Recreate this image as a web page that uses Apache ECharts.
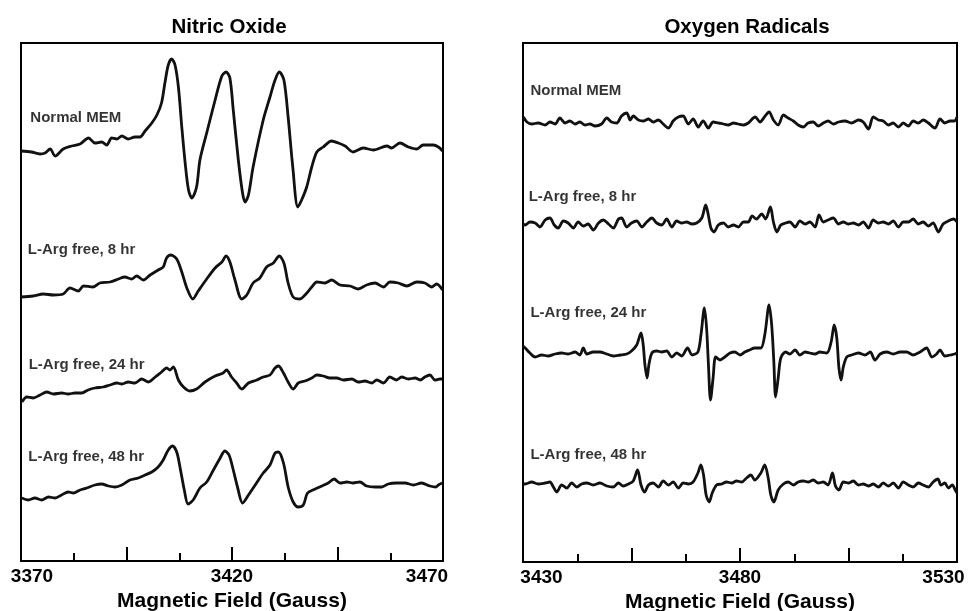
<!DOCTYPE html>
<html>
<head>
<meta charset="utf-8">
<script src="https://cdn.jsdelivr.net/npm/echarts@6/dist/echarts.min.js"></script>
<style>
  html, body { margin: 0; padding: 0; background: #fff; }
  #chart { width: 971px; height: 611px; }
</style>
</head>
<body>
<div id="chart"></div>
<script>
// EPR spectra, [field (G), signal (arb.)], signal read relative to each trace's baseline
const noNormal = [[3370,-1],[3372.5,-2],[3374.5,-4],[3375.7,-3],[3376.9,1],[3378.1,-6],[3380,1],[3382,4],[3384,6],[3386,12],[3387.5,7],[3389.1,8],[3390.3,5],[3391.5,12],[3392.7,11],[3393.9,14],[3395.4,11],[3397,13],[3398.2,13],[3399.4,19],[3401,27],[3402.2,35],[3403.3,47],[3404.1,67],[3404.9,85],[3405.7,91],[3406.5,85],[3407.3,63],[3408.1,23],[3408.9,-13],[3409.7,-40],[3410.5,-48],[3411.6,-37],[3412.4,-10],[3414,17],[3416,50],[3417.6,74],[3418.6,78],[3419.5,72],[3420.3,40],[3421.5,-10],[3422.5,-43],[3423.1,-52],[3423.9,-45],[3425,-17],[3427.4,30],[3429,53],[3430.2,70],[3431.2,78],[3432.3,70],[3433.3,33],[3434.4,-17],[3435.6,-57],[3436.5,-50],[3437.7,-37],[3438.9,-17],[3440.1,-2],[3441.6,3],[3443.6,9],[3445.2,7],[3446.8,4],[3448.7,-2],[3451.1,2],[3453.5,0],[3456.7,4],[3457.8,2],[3459.8,7],[3461.8,3],[3463.8,1],[3465.3,5],[3467.7,5],[3468.9,3],[3469.9,-1]];
const no8hr = [[3370,0],[3372.9,1],[3375.3,3],[3377.7,2],[3380,3],[3381.6,9],[3383.6,6],[3384.8,11],[3387.1,10],[3388.7,14],[3391.1,15],[3393.1,18],[3394.6,20],[3396.2,18],[3397.4,21],[3399,17],[3400.6,22],[3402.5,27],[3403.7,30],[3404.5,39],[3405.5,42],[3406.9,38],[3408.1,25],[3409.3,9],[3410.7,-2],[3412,6],[3414,18],[3416,29],[3417.6,35],[3418.6,41],[3419.5,35],[3420.7,17],[3422.3,-2],[3423.5,2],[3425,14],[3426.6,19],[3428.2,30],[3429.8,34],[3431.2,41],[3432.3,34],[3433.3,14],[3434.5,0],[3436.1,-2],[3437.3,2],[3438.9,10],[3440.1,15],[3442,14],[3443.6,17],[3445.6,12],[3448,11],[3449.9,8],[3451.9,12],[3453.9,14],[3455.9,10],[3457.4,15],[3459.4,14],[3461.4,11],[3463.8,15],[3465.7,14],[3467.3,10],[3468.5,13],[3469.9,7]];
const no24hr = [[3370.2,-7],[3371.4,-2],[3372.9,-3],[3374.5,0],[3376.1,3],[3377.7,1],[3379.6,2],[3381.2,1],[3382.8,2],[3384.4,2],[3385.9,5],[3387.5,7],[3389.5,8],[3391.1,10],[3392.7,12],[3393.9,11],[3395.4,13],[3397,12],[3398.6,16],[3400.2,13],[3401.8,18],[3403.3,23],[3404.5,27],[3405.3,25],[3406.1,28],[3407.3,15],[3408.5,8],[3410,4],[3411.6,6],[3413.6,13],[3416,19],[3417.9,22],[3418.7,25],[3419.9,18],[3421.1,12],[3422.3,6],[3423.9,12],[3425.9,15],[3427.4,18],[3429,20],[3430.2,27],[3431,29],[3432.2,22],[3433.3,13],[3434.5,6],[3435.7,12],[3437.3,14],[3438.9,17],[3440.1,20],[3441.6,19],[3443.2,17],[3444.8,17],[3446.4,15],[3448.4,16],[3449.9,13],[3451.5,14],[3453.1,12],[3454.3,15],[3455.9,12],[3457.4,18],[3459,15],[3460.2,18],[3461.8,16],[3463.4,17],[3464.6,15],[3465.7,18],[3466.9,20],[3468.1,15],[3469.3,16],[3469.9,16]];
const no48hr = [[3370.2,2],[3371.7,0],[3373.3,2],[3374.9,0],[3376.5,3],[3378.1,2],[3379.6,5],[3381.2,8],[3382.4,7],[3384,10],[3385.6,12],[3387.5,15],[3389.1,16],[3390.7,14],[3392.3,13],[3393.9,15],[3395.8,20],[3397.8,22],[3399.4,25],[3401,28],[3402.5,33],[3403.7,40],[3404.9,50],[3405.9,54],[3406.9,48],[3407.8,30],[3408.7,10],[3409.6,-4],[3410.8,0],[3412.4,12],[3414,18],[3415.6,30],[3417.2,42],[3418.3,49],[3419.3,45],[3420.3,30],[3421.3,13],[3422.5,-3],[3423.9,5],[3425.5,15],[3427.4,27],[3429,35],[3430.2,47],[3431,48],[3432.2,37],[3433.3,13],[3434.5,-2],[3435.7,-7],[3436.9,-5],[3437.9,7],[3439.7,11],[3441.3,14],[3442.8,17],[3444.2,21],[3445.6,17],[3447.2,18],[3448.7,17],[3450.3,18],[3451.9,14],[3453.9,13],[3455.5,13],[3457,16],[3459,17],[3461,17],[3463,15],[3464.9,17],[3466.9,14],[3468.3,13],[3468.9,15],[3469.8,17]];

const oxNormal = [[3430.1,6],[3430.9,1],[3432,-1],[3433.5,0],[3435.1,-2],[3436.2,1],[3437.4,-1],[3438.5,5],[3439.7,0],[3440.8,2],[3442,-1],[3443.1,1],[3444.3,-2],[3445.4,-1],[3446.6,-3],[3448.1,-1],[3449.3,5],[3450.4,1],[3451.6,0],[3452.7,7],[3453.9,10],[3454.7,3],[3455.4,7],[3456.6,3],[3457.7,2],[3458.9,4],[3460,1],[3461.2,3],[3462.3,-1],[3463.5,-5],[3464.6,2],[3465.8,6],[3466.9,7],[3468.1,-1],[3469.2,4],[3470.4,-4],[3471.5,2],[3472.7,-5],[3473.8,1],[3475,0],[3476.2,-1],[3477.3,-2],[3478.5,0],[3479.6,-1],[3480.8,-2],[3481.9,0],[3483.5,6],[3484.6,1],[3485.8,7],[3486.7,11],[3487.7,3],[3488.8,-2],[3490,8],[3491.1,5],[3492.3,2],[3493.4,-2],[3494.6,-4],[3495.7,0],[3496.9,1],[3498,-3],[3499.2,0],[3500.3,2],[3501.5,-1],[3502.7,1],[3504.2,2],[3505.7,0],[3507.3,3],[3508.4,1],[3509.6,-6],[3510.7,6],[3511.9,3],[3513,2],[3514.2,-2],[3515.3,0],[3516.5,-4],[3517.6,0],[3518.8,-3],[3519.9,2],[3521.1,0],[3522.2,3],[3523.4,0],[3524.9,-5],[3526.1,4],[3527.2,0],[3528.4,2],[3529.4,2],[3530,6]];
const ox8hr = [[3430,-1],[3430.5,-2],[3431.6,1],[3432.8,0],[3433.9,-4],[3435.1,3],[3436.2,5],[3437.2,-2],[3438.1,-5],[3439.3,2],[3440.4,0],[3441.6,-5],[3442.7,1],[3443.9,-3],[3445,-1],[3446.2,-7],[3447.4,0],[3448.5,3],[3449.7,-1],[3450.8,-5],[3452,4],[3452.7,5],[3453.9,-4],[3455,0],[3456.2,2],[3457.4,-4],[3458.5,1],[3459.7,5],[3460.8,0],[3462,-2],[3463.1,4],[3464.3,-4],[3465.4,2],[3466.6,0],[3467.7,1],[3468.9,-1],[3470,0],[3471.2,5],[3472.1,18],[3472.7,8],[3473.3,-5],[3474,-9],[3475,-2],[3476.2,0],[3477.3,-4],[3478.5,-2],[3479.6,-4],[3480.8,1],[3481.9,1],[3482.8,7],[3483.8,4],[3485,9],[3485.9,4],[3487,16],[3487.7,1],[3488.5,-9],[3489.4,-2],[3490.5,0],[3491.5,1],[3492.7,-4],[3493.8,2],[3495,-1],[3496.1,1],[3497.3,-4],[3498.2,8],[3499.2,1],[3500.3,3],[3501.5,5],[3502.7,-1],[3503.8,1],[3505,-1],[3506.1,0],[3507.3,-2],[3508.4,1],[3509.6,-5],[3510.7,3],[3511.9,0],[3513,1],[3514.2,-1],[3515.3,2],[3516.5,-4],[3517.6,1],[3518.8,1],[3519.9,4],[3521.1,-1],[3522.2,1],[3523.4,-3],[3524.5,0],[3525.7,-9],[3526.8,-1],[3528,2],[3529.2,4],[3530,1]];
const ox24hr = [[3430,9],[3430.5,7],[3431.6,2],[3432.8,-2],[3434.3,0],[3435.8,-1],[3437.4,1],[3438.9,2],[3440.4,1],[3442,3],[3443.1,0],[3443.9,7],[3444.7,1],[3446.2,3],[3447.7,3],[3449.3,1],[3450.8,-1],[3452.4,0],[3453.9,1],[3455,4],[3456.2,10],[3457.2,22],[3457.7,10],[3458.1,-10],[3458.6,-23],[3459,-10],[3459.7,2],[3460.8,4],[3462,3],[3463.1,4],[3464.3,-2],[3465.4,2],[3466.6,-1],[3467.9,7],[3469,0],[3470.3,3],[3471,20],[3471.8,47],[3472.3,27],[3472.7,-7],[3473.2,-45],[3473.8,-23],[3474.4,-2],[3475.4,-5],[3476.5,-2],[3477.7,2],[3478.8,3],[3480,0],[3481.1,3],[3482.2,5],[3483.4,7],[3484.8,7],[3485.7,20],[3486.7,50],[3487.3,30],[3487.8,-7],[3488.2,-42],[3488.8,-23],[3489.4,-3],[3490.5,3],[3491.5,1],[3492.7,5],[3493.8,0],[3495,3],[3496.1,2],[3497.3,1],[3498.4,3],[3500,2],[3501,13],[3501.7,30],[3502.3,17],[3502.8,-13],[3503.3,-25],[3503.8,-12],[3504.6,-2],[3505.7,0],[3507.3,2],[3508.8,0],[3510,3],[3511.1,-5],[3512.3,1],[3513.8,3],[3515.3,1],[3516.9,3],[3518.4,3],[3519.9,0],[3521.5,3],[3523,7],[3524.2,-2],[3525.3,1],[3526.1,5],[3527.2,-1],[3528.4,0],[3529.5,1],[3530,2]];
const ox48hr = [[3430,0],[3430.5,0],[3432,2],[3433.5,0],[3435.1,1],[3436.2,2],[3437,-3],[3437.8,-8],[3438.9,-1],[3440.1,-4],[3441.2,1],[3442.4,-3],[3443.5,0],[3444.7,1],[3446.2,-1],[3447.7,1],[3449.3,-2],[3450.8,-3],[3452,1],[3453.1,-2],[3454.3,0],[3455.4,3],[3456.4,14],[3457.2,-1],[3458,-8],[3458.9,-1],[3460,1],[3461.2,-3],[3462.3,3],[3463.5,-1],[3464.6,2],[3465.8,-4],[3466.9,1],[3468.1,0],[3469.2,2],[3470.3,11],[3471,19],[3471.6,9],[3472.2,-11],[3472.9,-18],[3473.6,-9],[3474.6,-1],[3475.8,0],[3476.9,2],[3478.1,1],[3479.2,3],[3480.4,2],[3481.5,6],[3482.5,9],[3483.4,4],[3484.8,11],[3485.7,19],[3486.5,6],[3487.1,-11],[3487.8,-18],[3488.8,-6],[3490,0],[3491.1,2],[3492.3,-1],[3493.4,2],[3494.6,3],[3495.7,2],[3496.9,4],[3498,1],[3499.2,2],[3500.3,-1],[3501.3,11],[3502,-2],[3502.8,-6],[3503.8,2],[3505,1],[3506.1,3],[3507.3,-1],[3508.4,0],[3509.6,-2],[3510.7,0],[3511.9,-3],[3513,1],[3514.2,-2],[3515.3,1],[3516.5,-4],[3517.6,2],[3518.8,-1],[3519.9,-3],[3521.1,1],[3522.2,-1],[3523.4,-3],[3524.5,2],[3525.6,5],[3526.3,-1],[3527.2,1],[3528,-4],[3528.9,-1],[3529.6,-6],[3530,-9]];

const traceNames = ['Normal MEM', 'L-Arg free, 8 hr', 'L-Arg free, 24 hr', 'L-Arg free, 48 hr'];
const leftTraces = [noNormal, no8hr, no24hr, no48hr];
const rightTraces = [oxNormal, ox8hr, ox24hr, ox48hr];
// vertical stacking of the traces
const leftOffsets = [411, 264, 166, 61];
const rightOffsets = [439, 339, 207, 78];
const panelTitles = ['Nitric Oxide', 'Oxygen Radicals'];
const leftRange = [3370, 3470];
const rightRange = [3430, 3530];

const font = '"Liberation Sans", Arial, Helvetica, sans-serif';
const ink = '#000';

// label anchors [field, height] for the trace captions
const leftLabelAt = [[3372.1, 443.5], [3371.5, 311.5], [3371.7, 196], [3371.6, 104]];
const rightLabelAt = [[3431.6, 471], [3431.2, 365.5], [3431.6, 249], [3431.6, 107]];

function xAxisFor(gridIndex, range, padMin, padMax) {
  const tickFont = {fontFamily: font, fontWeight: 'bold', fontSize: 19, color: ink};
  return {
    type: 'value',
    gridIndex: gridIndex,
    min: range[0],
    max: range[1],
    interval: 25,
    name: 'Magnetic Field (Gauss)',
    nameLocation: 'middle',
    nameGap: 25,
    nameTextStyle: {fontFamily: font, fontWeight: 'bold', fontSize: 21, color: ink},
    axisLine: {show: true, lineStyle: {color: ink, width: 2}},
    axisTick: {show: true, inside: true, length: 14, lineStyle: {color: ink, width: 2}},
    minorTick: {show: true, splitNumber: 2, length: 8, lineStyle: {color: ink, width: 2}},
    splitLine: {show: false},
    minorSplitLine: {show: false},
    axisLabel: Object.assign({
      margin: 6,
      formatter: function (v) {
        if ((v - range[0]) % 50 !== 0) return '';
        if (v === range[0]) return '{a|' + v + '}';
        if (v === range[1]) return '{b|' + v + '}';
        return '{c|' + v + '}';
      },
      rich: {
        a: Object.assign({padding: [0, 0, 0, padMin]}, tickFont),
        b: Object.assign({padding: [0, padMax, 0, 0]}, tickFont),
        c: tickFont
      }
    }, tickFont)
  };
}

function yAxisFor(gridIndex, max) {
  return {type: 'value', gridIndex: gridIndex, min: 0, max: max, show: false};
}

const series = [];
leftTraces.forEach(function (t, i) {
  series.push({
    type: 'line', xAxisIndex: 0, yAxisIndex: 0, showSymbol: false, smooth: 0.3,
    lineStyle: {color: '#111', width: 2.8}, silent: true,
    data: t.map(p => [p[0], p[1] + leftOffsets[i]])
  });
});
rightTraces.forEach(function (t, i) {
  series.push({
    type: 'line', xAxisIndex: 1, yAxisIndex: 1, showSymbol: false, smooth: 0.3,
    lineStyle: {color: '#111', width: 2.8}, silent: true,
    data: t.map(p => [p[0], p[1] + rightOffsets[i]])
  });
});

const captionLabel = {
  show: true, position: 'right', distance: 0, formatter: '{b}',
  fontFamily: font, fontWeight: 'bold', fontSize: 15, color: ink
};
series.push({
  type: 'scatter', xAxisIndex: 0, yAxisIndex: 0, symbolSize: 1, silent: true,
  itemStyle: {color: 'rgba(0,0,0,0)'}, label: captionLabel,
  data: traceNames.map((n, i) => ({name: n, value: leftLabelAt[i]}))
});
series.push({
  type: 'scatter', xAxisIndex: 1, yAxisIndex: 1, symbolSize: 1, silent: true,
  itemStyle: {color: 'rgba(0,0,0,0)'}, label: captionLabel,
  data: traceNames.map((n, i) => ({name: n, value: rightLabelAt[i]}))
});

const chart = echarts.init(document.getElementById('chart'));
chart.setOption({
  backgroundColor: '#fff',
  animation: false,
  title: [
    {text: panelTitles[0], left: 224, top: 12, textAlign: 'center',
     textStyle: {fontFamily: font, fontWeight: 'bold', fontSize: 20.5, color: ink}},
    {text: panelTitles[1], left: 742, top: 12, textAlign: 'center',
     textStyle: {fontFamily: font, fontWeight: 'bold', fontSize: 20.5, color: ink}}
  ],
  grid: [
    {left: 21, top: 43, width: 422, height: 518, show: true, borderColor: ink, borderWidth: 2,
     outerBoundsMode: 'none'},
    {left: 523, top: 43, width: 434, height: 519, show: true, borderColor: ink, borderWidth: 2,
     outerBoundsMode: 'none'}
  ],
  xAxis: [xAxisFor(0, leftRange, 22, 32), xAxisFor(1, rightRange, 37, 27)],
  yAxis: [yAxisFor(0, 518), yAxisFor(1, 519)],
  series: series
});
</script>
</body>
</html>
